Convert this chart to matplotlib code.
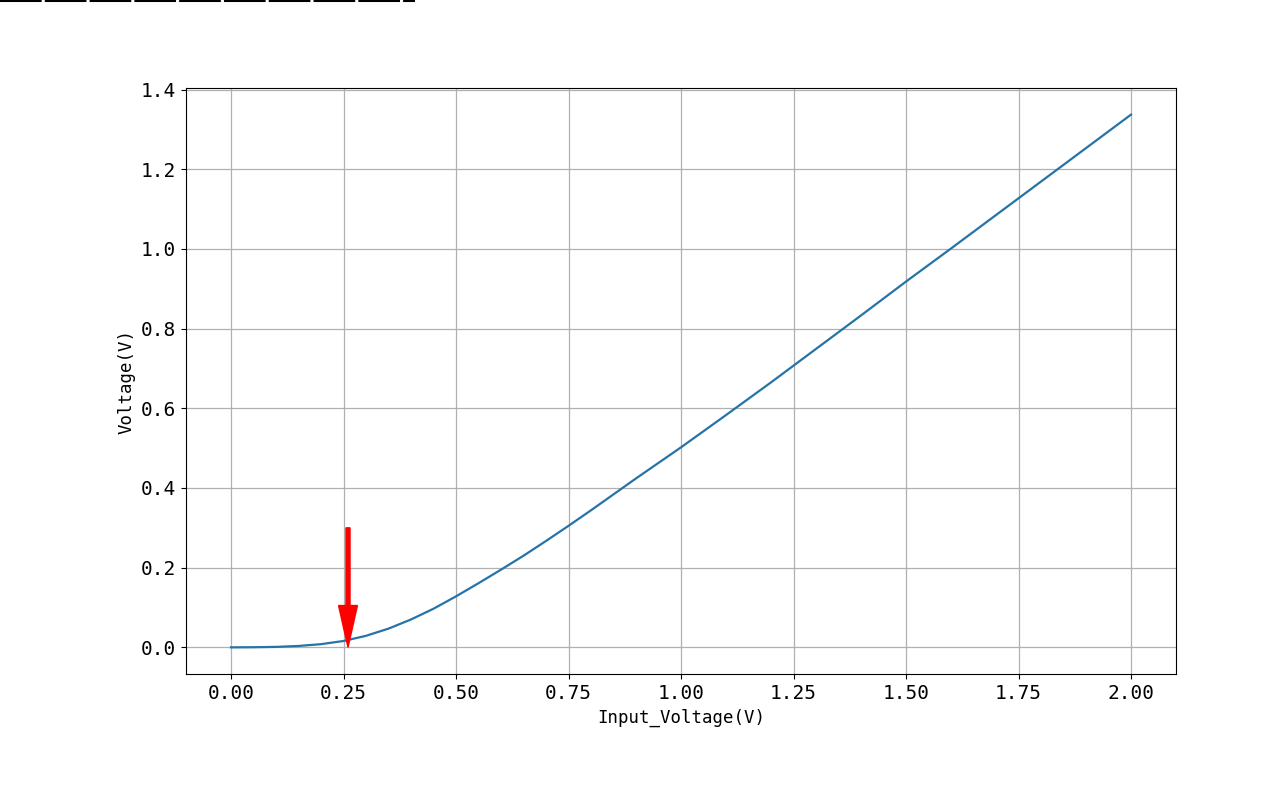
import matplotlib
matplotlib.use("Agg")
import matplotlib.pyplot as plt
from matplotlib.lines import Line2D

input_v = [0.0, 0.05, 0.1, 0.15, 0.2, 0.25, 0.3, 0.35, 0.4, 0.45, 0.5, 0.55,
           0.6, 0.65, 0.7, 0.75, 0.8, 0.85, 0.9, 0.95, 1.0, 1.1, 1.2, 1.25,
           1.3, 1.4, 1.5, 1.6, 1.7, 1.75, 1.8, 1.9, 2.0]
output_v = [0.0, 0.0003, 0.0012, 0.0035, 0.008, 0.016, 0.029, 0.047, 0.070,
            0.097, 0.128, 0.161, 0.195, 0.230, 0.267, 0.305, 0.344, 0.384,
            0.424, 0.463, 0.502, 0.583, 0.665, 0.707, 0.749, 0.833, 0.918,
            1.001, 1.085, 1.127, 1.169, 1.253, 1.337]

# arrow marking the turn-on point
arrow_x = 0.26
arrow_top = 0.30

plt.rcParams['font.family'] = ['DejaVu Sans Mono', 'Noto Sans CJK SC']

fig = plt.figure(figsize=(12.8, 8), dpi=100)
ax = fig.add_axes([186 / 1280, 126 / 800, 990 / 1280, 586 / 800])

ax.plot(input_v, output_v, color='#2673a8', linewidth=1.6)
ax.grid(True, color='#b0b0b0', linewidth=0.9)

ax.arrow(arrow_x, arrow_top, 0, -arrow_top, width=0.009, head_width=0.042,
         head_length=0.105, length_includes_head=True, color='red', zorder=5)

ax.set_xticks([0, 0.25, 0.5, 0.75, 1.0, 1.25, 1.5, 1.75, 2.0])
ax.set_xticklabels(['0.00', '0.25', '0.50', '0.75', '1.00', '1.25', '1.50', '1.75', '2.00'])
ax.tick_params(labelsize=14)
ax.set_xlabel('Input_Voltage(V)', fontsize=12.5)
ax.set_ylabel('Voltage(V)', fontsize=12.5)

# scan streak along the top edge of the image
fig.add_artist(Line2D([0, 415 / 1280], [0.999, 0.999], color='black',
                      linewidth=1.5, linestyle=(0, (20, 1.5))))

fig.savefig('out.png', dpi=100)
